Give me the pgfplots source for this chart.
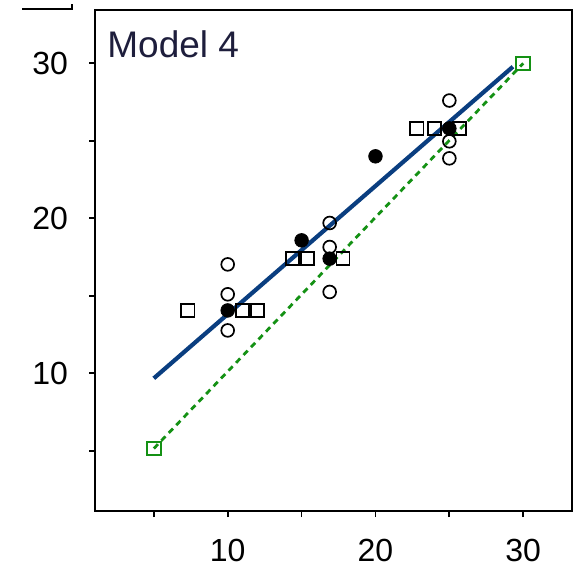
\documentclass[border=0pt]{standalone}
\usepackage{fontspec}
\setmainfont{Liberation Sans}
\usepackage{pgfplots}
\pgfplotsset{compat=1.18}
\definecolor{bl}{RGB}{10,62,128}
\definecolor{gr}{RGB}{20,145,20}
\definecolor{ttl}{RGB}{30,30,60}
\begin{document}
\begin{tikzpicture}
\path[use as bounding box] (-47.5pt,-29pt) rectangle (240.5pt,255.5pt);
\draw[line width=1pt,black] (-36.5pt,250.9pt) -- (-11.5pt,250.9pt) -- (-11.5pt,253.5pt);
\begin{axis}[at={(0,0)}, anchor=south west, scale only axis,
  width=238.5pt, height=250.5pt,
  xmin=1.02, xmax=33.3, ymin=1.12, ymax=33.44,
  axis line style={line width=1pt, black},
  xtick={5,10,...,30}, xticklabels={,10,,20,,30},
  ytick={5,10,...,30}, yticklabels={,10,,20,,30},
  tick align=outside, tick pos=left,
  major tick length=3pt,
  every tick/.style={line width=0.9pt, black},
  /pgf/number format/assume math mode=true,
  ticklabel style={font=\fontsize{16}{18}\selectfont, black},
  xticklabel style={yshift=-7.5pt},
  yticklabel style={xshift=-7pt},
  clip=false,
]
% identity (green dashed)
\addplot[gr, line width=1.4pt, dash pattern=on 3pt off 2.4pt] coordinates {(5,5.15) (30,30)};
\addplot[only marks, mark=square, mark size=3.4pt, gr, mark options={line width=1pt}] coordinates {(5,5.15) (30,30)};
% fitted (blue)
\addplot[bl, line width=2.1pt] coordinates {(5,9.68) (29.3,29.78)};
% open circles
\addplot[only marks, mark=o, mark size=3.2pt, black, mark options={line width=0.85pt}] coordinates {
(10,17.03) (10,15.1) (10,12.77)
(16.9,19.7) (16.9,18.15) (16.9,15.25)
(25,27.6) (25,24.97) (25,23.87)
};
% open squares
\addplot[only marks, mark=square, mark size=3.3pt, black, mark options={line width=0.85pt}] coordinates {
(7.3,14.06) (11.0,14.06) (12.0,14.06)
(14.4,17.4) (15.4,17.4) (17.8,17.4)
(22.8,25.8) (24.0,25.8) (25.7,25.8)
};
% filled circles
\addplot[only marks, mark=*, mark size=3.4pt, black] coordinates {
(10,14.06) (15,18.58) (20,24.0) (16.9,17.4) (25,25.8)
};
\node[anchor=north west, inner sep=0pt, text=ttl, font=\fontsize{18.5}{20}\selectfont] at ([xshift=6pt,yshift=-10pt]rel axis cs:0,1) {Model 4};
\end{axis}
\end{tikzpicture}
\end{document}
